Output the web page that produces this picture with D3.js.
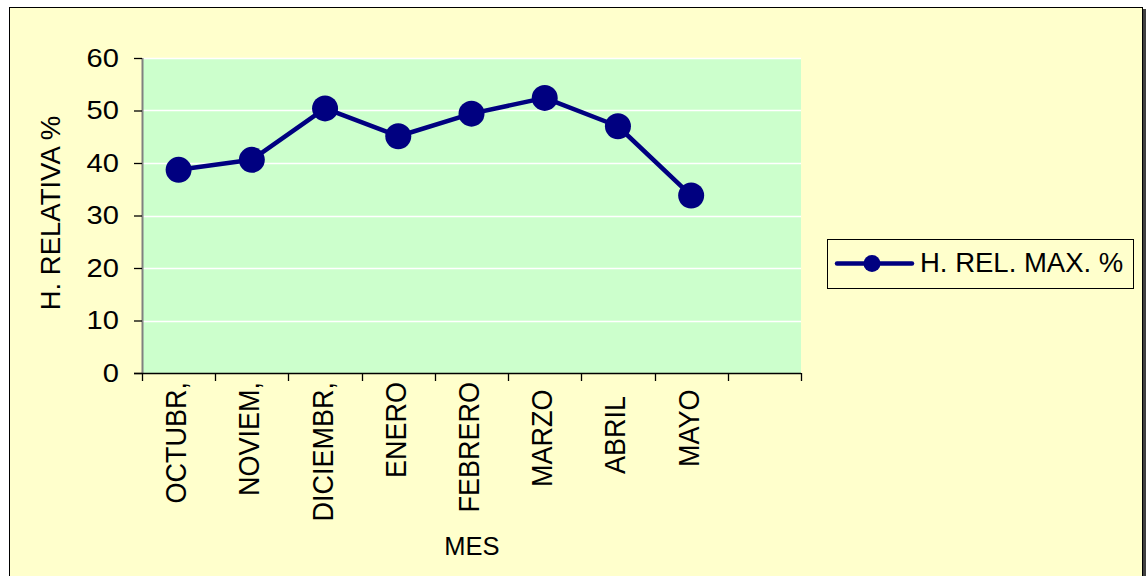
<!DOCTYPE html>
<html>
<head>
<meta charset="utf-8">
<script src="https://cdn.jsdelivr.net/npm/d3@7"></script>
<style>
  html, body { margin: 0; padding: 0; background: #ffffff; }
  svg { display: block; font-family: Arial, "Liberation Sans", sans-serif; }
  .cat { white-space: pre; }
</style>
</head>
<body>
<svg id="chart" width="1147" height="576"></svg>
<script>
// Monthly maximum relative humidity (%)
const months = ["OCTUBR,", "NOVIEM,", "DICIEMBR,", "ENERO", "FEBRERO", "MARZO ", "ABRIL  ", "MAYO ", ""];
const humidityMax = [38.7, 40.6, 50.4, 45.1, 49.4, 52.4, 47.0, 33.8];
const yTicks = [0, 10, 20, 30, 40, 50, 60];
const seriesName = "H. REL. MAX. %";
const yTitle = "H. RELATIVA %";
const xTitle = "MES";

const svg = d3.select("#chart");
const navy = "#000080";

// Chart area with border and shadow
svg.append("rect").attr("x", 11).attr("y", 9).attr("width", 1135).attr("height", 580).attr("fill", "#404040");
svg.append("rect").attr("x", 9.5).attr("y", 7.5).attr("width", 1133).attr("height", 580)
  .attr("fill", "#FFFFCC").attr("stroke", "#000").attr("stroke-width", 1);

const plot = { left: 142, top: 58, right: 801, bottom: 373 };

const x = d3.scaleBand().domain(months.map((m, i) => i)).range([plot.left, plot.right]).paddingInner(0).paddingOuter(0);
const y = d3.scaleLinear().domain([0, 60]).range([plot.bottom, plot.top]);

// Plot background
svg.append("rect")
  .attr("x", plot.left).attr("y", plot.top)
  .attr("width", plot.right - plot.left).attr("height", plot.bottom - plot.top)
  .attr("fill", "#CCFFCC");

// Horizontal gridlines
svg.append("g").selectAll("line").data(yTicks.filter(d => d > 0)).join("line")
  .attr("x1", plot.left).attr("x2", plot.right)
  .attr("y1", d => Math.round(y(d)) + 0.5).attr("y2", d => Math.round(y(d)) + 0.5)
  .attr("stroke", "#ffffff").attr("stroke-width", 1.5);

// Plot area left edge
svg.append("line")
  .attr("x1", plot.left + 0.5).attr("x2", plot.left + 0.5)
  .attr("y1", plot.top).attr("y2", plot.bottom)
  .attr("stroke", "#808080").attr("stroke-width", 2);

// Y axis (labels slightly widened)
const yStretch = 1.12;
const yAxis = d3.axisLeft(y).tickValues(yTicks).tickSize(8).tickPadding(15);
const gy = svg.append("g").attr("transform", `translate(${plot.left},0)`).call(yAxis);
gy.select(".domain").remove();
gy.selectAll(".tick line").attr("stroke", "#000").attr("stroke-width", 1.3);
gy.selectAll(".tick text")
  .attr("font-size", 26).attr("fill", "#000")
  .attr("font-family", "Arial, 'Liberation Sans', sans-serif")
  .attr("x", -23 / yStretch)
  .attr("transform", `scale(${yStretch},1)`);

// X axis
const xEdges = d3.range(months.length + 1).map(i => plot.left + i * x.step());
svg.append("line")
  .attr("x1", plot.left - 8).attr("x2", plot.right)
  .attr("y1", plot.bottom + 0.5).attr("y2", plot.bottom + 0.5)
  .attr("stroke", "#000").attr("stroke-width", 1.3);
svg.append("g").selectAll("line").data(xEdges).join("line")
  .attr("x1", d => Math.round(d) + 0.5).attr("x2", d => Math.round(d) + 0.5)
  .attr("y1", plot.bottom).attr("y2", plot.bottom + 8)
  .attr("stroke", "#000").attr("stroke-width", 1.3);

svg.append("g").selectAll("text").data(months).join("text")
  .attr("class", "cat")
  .attr("transform", (d, i) => `translate(${x(i) + x.bandwidth() / 2 + 7.5},${plot.bottom + 9}) scale(1.08,1) rotate(-90)`)
  .attr("text-anchor", "end")
  .attr("font-size", 27)
  .attr("fill", "#000")
  .text(d => d);

// Axis titles
svg.append("text")
  .attr("transform", `translate(60,213) rotate(-90)`)
  .attr("text-anchor", "middle")
  .attr("font-size", 27.5)
  .text(yTitle);

svg.append("text")
  .attr("x", 472).attr("y", 555)
  .attr("text-anchor", "middle")
  .attr("font-size", 25.5)
  .text(xTitle);

// Series line and markers
const cx = i => x(i) + x.bandwidth() / 2;
const line = d3.line().x((d, i) => cx(i)).y(d => y(d));
svg.append("path").datum(humidityMax)
  .attr("d", line)
  .attr("fill", "none")
  .attr("stroke", navy)
  .attr("stroke-width", 4.5)
  .attr("stroke-linejoin", "round");

svg.append("g").selectAll("circle").data(humidityMax).join("circle")
  .attr("cx", (d, i) => cx(i))
  .attr("cy", d => y(d))
  .attr("r", 13)
  .attr("fill", navy);

// Legend
const lg = svg.append("g");
lg.append("rect").attr("x", 827.5).attr("y", 239.5).attr("width", 306).attr("height", 49)
  .attr("fill", "#FFFFCC").attr("stroke", "#000").attr("stroke-width", 1);
lg.append("line").attr("x1", 837).attr("x2", 912).attr("y1", 263.5).attr("y2", 263.5)
  .attr("stroke", navy).attr("stroke-width", 4.5).attr("stroke-linecap", "round");
lg.append("circle").attr("cx", 872).attr("cy", 263.5).attr("r", 8.5).attr("fill", navy);
lg.append("text").attr("x", 920).attr("y", 272).attr("font-size", 27.5).text(seriesName);
</script>
</body>
</html>
